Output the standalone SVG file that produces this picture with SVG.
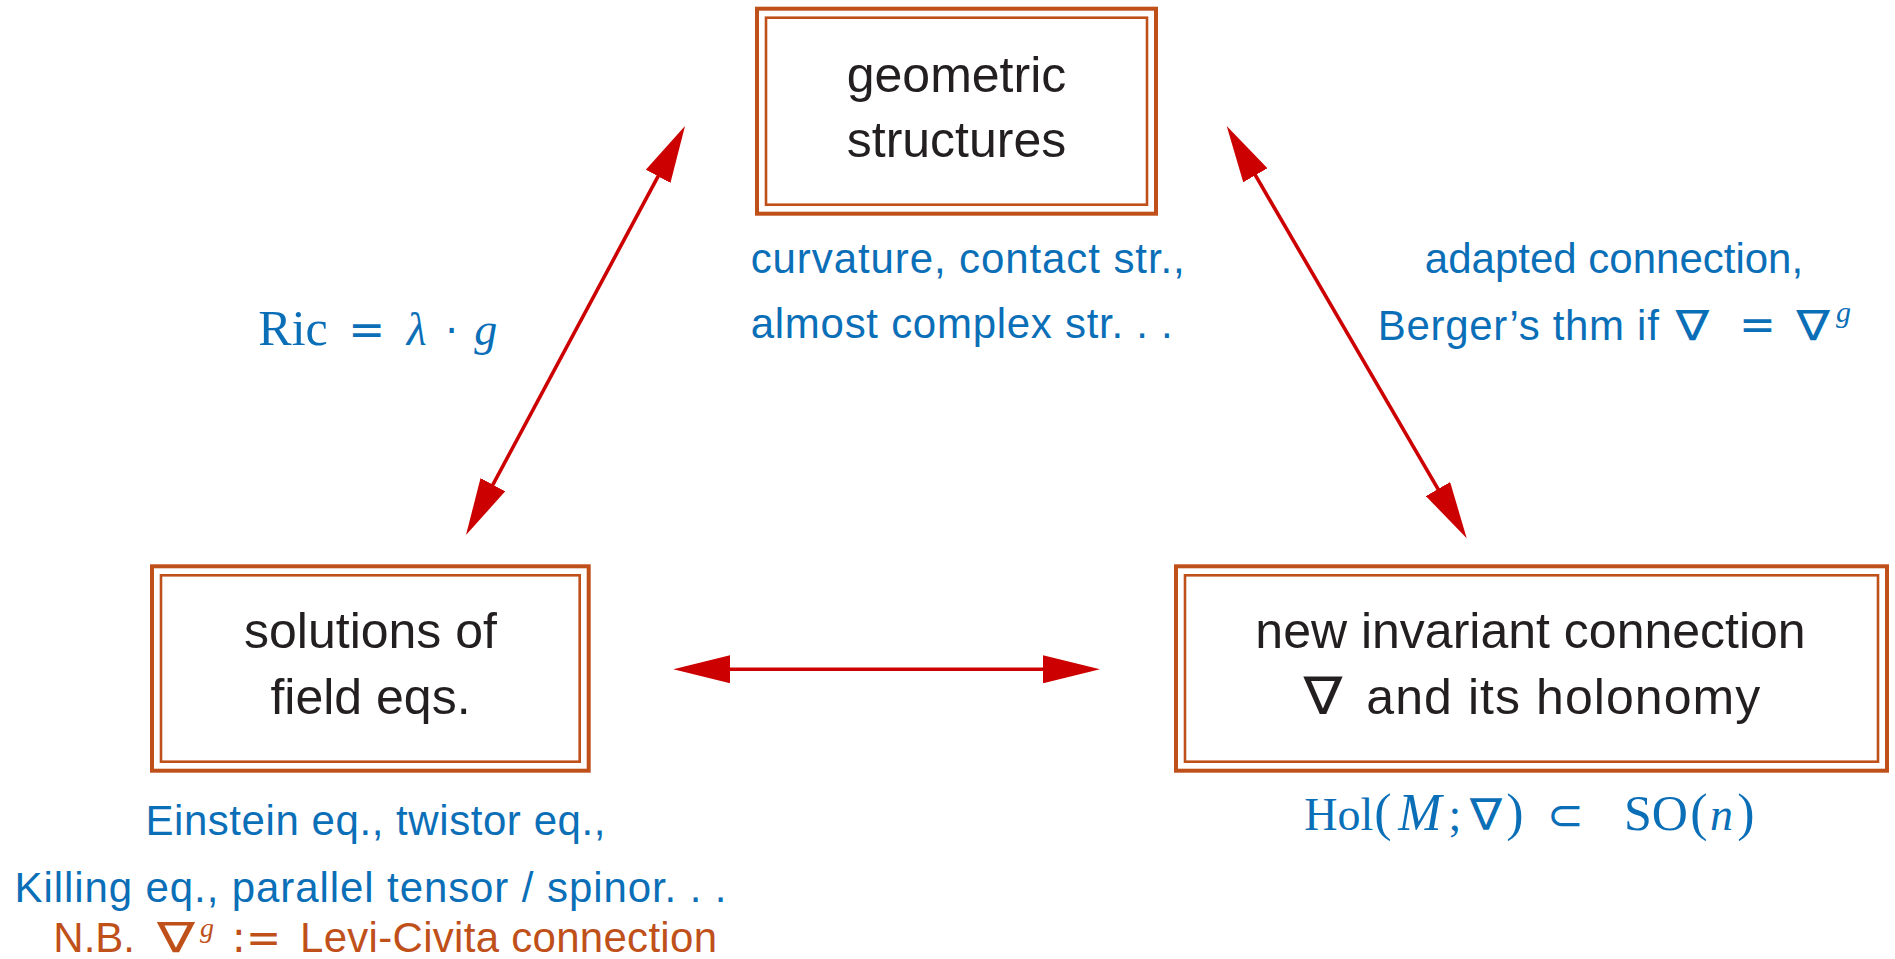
<svg xmlns="http://www.w3.org/2000/svg" width="1895" height="959" viewBox="0 0 1895 959">
<style>
.bg{fill:#ffffff}
.outer{fill:none;stroke:#c0501a;stroke-width:4}
.inner{fill:none;stroke:#c0501a;stroke-width:2.6}
.main{font-family:"Liberation Sans",Arial,sans-serif;font-size:50px;fill:#231f20;text-anchor:middle}
.lbl{font-family:"Liberation Sans",Arial,sans-serif;font-size:42px;fill:#0b6fb8}
.nb{font-family:"Liberation Sans",Arial,sans-serif;font-size:42px;fill:#c0501a}
.m{font-family:"Liberation Serif","Times New Roman",serif;font-size:46px;text-anchor:middle}
.mi{font-family:"Liberation Serif","Times New Roman",serif;font-size:46px;font-style:italic;text-anchor:middle}
.sym{font-family:"DejaVu Sans",sans-serif;text-anchor:middle}
.conn{stroke:#cc0000;stroke-width:3.6;fill:none}
</style>
<defs>
<marker id="ah" viewBox="0 0 57 28" markerWidth="57" markerHeight="28" markerUnits="userSpaceOnUse" refX="7" refY="14" orient="auto-start-reverse">
<path d="M0,0 L57,14 L0,28 z" fill="#cc0000"/>
</marker>
</defs>
<rect class="bg" x="0" y="0" width="1895" height="959"/>

<g id="connectors">
<line class="conn" x1="723.3" y1="669.3" x2="1050" y2="669.3" marker-start="url(#ah)" marker-end="url(#ah)"/>
<line class="conn" x1="489.6" y1="490.9" x2="661.4" y2="170.1" marker-start="url(#ah)" marker-end="url(#ah)"/>
<line class="conn" x1="1251.85" y1="169.2" x2="1441.55" y2="495.1" marker-start="url(#ah)" marker-end="url(#ah)"/>
</g>

<g id="node-geometric">
<rect class="outer" x="757" y="8.7" width="399" height="205"/>
<rect class="inner" x="766" y="17.7" width="381" height="187"/>
<text class="main" x="956.5" y="91.7">geometric</text>
<text class="main" x="956.5" y="156.7">structures</text>
</g>

<g id="node-solutions">
<rect class="outer" x="152" y="566.3" width="436.7" height="204.4"/>
<rect class="inner" x="161" y="575.3" width="418.7" height="186.4"/>
<text class="main" x="370.5" y="648.3">solutions of</text>
<text class="main" x="370.5" y="714.3">field eqs.</text>
</g>

<g id="node-connection">
<rect class="outer" x="1176" y="566.3" width="711" height="204.4"/>
<rect class="inner" x="1185" y="575.3" width="693" height="186.4"/>
<text class="main" x="1530.5" y="648.3">new invariant connection</text>
<text class="sym" transform="translate(1323,714.3) scale(1.12,1)" x="0" y="0" style="font-size:52px;fill:#231f20">∇</text>
<text class="main" x="1366.3" y="714.3" style="text-anchor:start" textLength="394">and its holonomy</text>
</g>

<g id="label-top">
<text class="lbl" x="750.7" y="273.3" textLength="434">curvature, contact str.,</text>
<text class="lbl" x="750.7" y="338.3" textLength="422">almost complex str. . .</text>
</g>

<g id="label-right">
<text class="lbl" x="1614" y="273.3" style="text-anchor:middle">adapted connection,</text>
<text class="lbl" x="1377.8" y="340" textLength="281">Berger’s thm if</text>
<text class="sym" transform="translate(1692.4,340) scale(1.2,1)" x="0" y="0" style="font-size:42px;fill:#0b6fb8">∇</text>
<text class="sym" x="1757.5" y="340" style="font-size:44px;fill:#0b6fb8">=</text>
<text class="sym" transform="translate(1813,340) scale(1.2,1)" x="0" y="0" style="font-size:42px;fill:#0b6fb8">∇</text>
<text class="mi" x="1843.5" y="322" style="font-size:30px;fill:#0b6fb8">g</text>
</g>

<g id="label-left">
<text class="m" x="293" y="345" style="fill:#0b6fb8;font-size:50px">Ric</text>
<text class="sym" x="366.7" y="345" style="font-size:44px;fill:#0b6fb8">=</text>
<text class="mi" x="416.7" y="345" style="fill:#0b6fb8">λ</text>
<text class="sym" x="451.7" y="345" style="font-size:40px;fill:#0b6fb8">·</text>
<text class="mi" x="485.8" y="345" style="fill:#0b6fb8">g</text>
</g>

<g id="label-bottom-right">
<text class="m" x="1338.8" y="830" style="fill:#0b6fb8">Hol</text>
<text class="m" x="1383" y="830" style="fill:#0b6fb8;font-size:52px">(</text>
<text class="mi" x="1420" y="830" style="fill:#0b6fb8;font-size:52px">M</text>
<text class="m" x="1455" y="830" style="fill:#0b6fb8">;</text>
<text class="sym" transform="translate(1486,830) scale(1.1,1)" x="0" y="0" style="font-size:44px;fill:#0b6fb8">∇</text>
<text class="m" x="1515" y="830" style="fill:#0b6fb8;font-size:52px">)</text>
<text class="sym" x="1565.5" y="830" style="font-size:44px;fill:#0b6fb8">⊂</text>
<text class="m" x="1656" y="830" style="fill:#0b6fb8;font-size:50px">SO</text>
<text class="m" x="1699" y="830" style="fill:#0b6fb8;font-size:52px">(</text>
<text class="mi" x="1721.5" y="830" style="fill:#0b6fb8">n</text>
<text class="m" x="1746" y="830" style="fill:#0b6fb8;font-size:52px">)</text>
</g>

<g id="label-bottom-left">
<text class="lbl" x="145.4" y="835" textLength="460">Einstein eq., twistor eq.,</text>
<text class="lbl" x="14.5" y="901.7" textLength="712">Killing eq., parallel tensor / spinor. . .</text>
</g>

<g id="note">
<text class="nb" x="53.3" y="952.3">N.B.</text>
<text class="sym" transform="translate(176,952.3) scale(1.35,1)" x="0" y="0" style="font-size:42px;fill:#c0501a">∇</text>
<text class="mi" x="207" y="937" style="font-size:28px;fill:#c0501a">g</text>
<text class="sym" x="256.5" y="952.3" style="font-size:42px;fill:#c0501a">:=</text>
<text class="nb" x="300" y="952.3" textLength="417">Levi-Civita connection</text>
</g>
</svg>
